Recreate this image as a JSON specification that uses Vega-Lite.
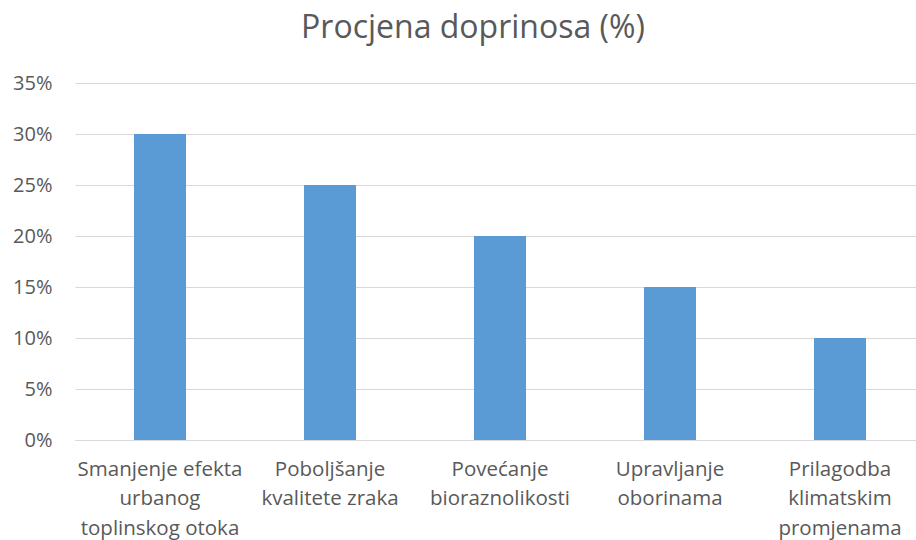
{
  "$schema": "https://vega.github.io/schema/vega-lite/v6.json",
  "width": 850,
  "height": 357,
  "autosize": {"type": "none"},
  "padding": {"left": 75, "top": 83, "right": 0, "bottom": 101},
  "background": "white",
  "title": {
    "text": "Procjena doprinosa (%)",
    "font": "Open Sans",
    "fontSize": 32,
    "fontWeight": "normal",
    "color": "#595959",
    "anchor": "middle",
    "baseline": "alphabetic",
    "dx": -27,
    "offset": 3
  },
  "data": {
    "values": [
      {"kategorija": "Smanjenje efekta\nurbanog\ntoplinskog otoka", "doprinos": 0.30},
      {"kategorija": "Poboljšanje\nkvalitete zraka", "doprinos": 0.25},
      {"kategorija": "Povećanje\nbioraznolikosti", "doprinos": 0.20},
      {"kategorija": "Upravljanje\noborinama", "doprinos": 0.15},
      {"kategorija": "Prilagodba\nklimatskim\npromjenama", "doprinos": 0.10}
    ]
  },
  "mark": {"type": "bar", "color": "#5B9BD5"},
  "encoding": {
    "x": {
      "field": "kategorija",
      "type": "nominal",
      "sort": null,
      "scale": {"paddingInner": 0.694, "paddingOuter": 0.347},
      "axis": {
        "title": null,
        "labelAngle": 0,
        "labelExpr": "split(datum.value, '\\n')",
        "labelFont": "Open Sans",
        "labelFontSize": 20.5,
        "labelLineHeight": 29.5,
        "labelColor": "#595959",
        "labelPadding": 19,
        "ticks": false,
        "domain": true,
        "domainColor": "#d9d9d9",
        "domainWidth": 1,
        "grid": false
      }
    },
    "y": {
      "field": "doprinos",
      "type": "quantitative",
      "scale": {"domain": [0, 0.35], "nice": false},
      "axis": {
        "title": null,
        "format": ".0%",
        "values": [0, 0.05, 0.1, 0.15, 0.2, 0.25, 0.3, 0.35],
        "labelFont": "Open Sans",
        "labelFontSize": 20,
        "labelColor": "#595959",
        "labelPadding": 23,
        "ticks": false,
        "domain": false,
        "grid": true,
        "gridColor": "#d9d9d9",
        "gridWidth": 1
      }
    }
  },
  "config": {"view": {"stroke": null}}
}
